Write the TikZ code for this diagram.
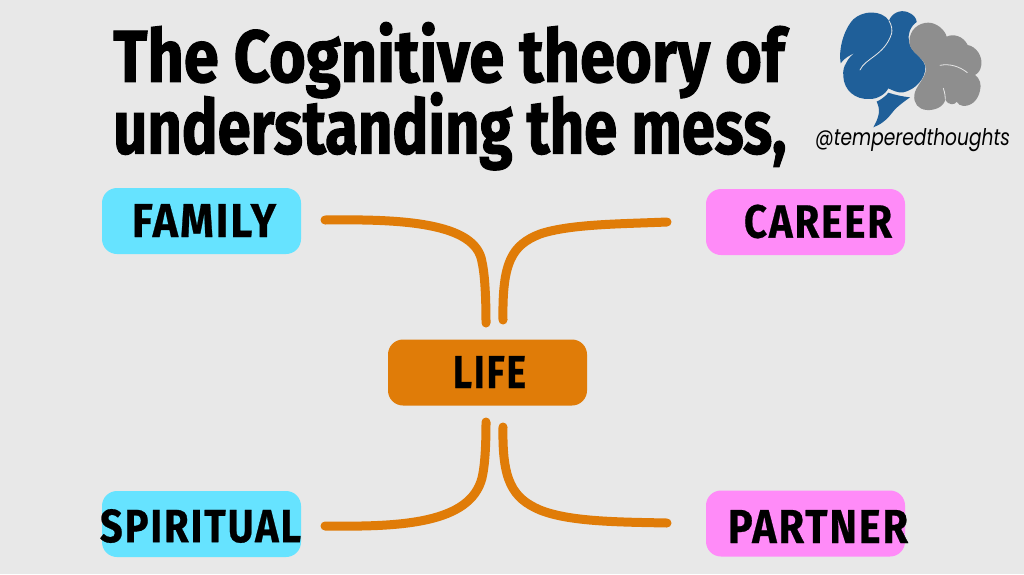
\documentclass[tikz,border=0pt]{standalone}
\usepackage{graphicx}
\usepackage{fontspec}
\newfontfamily\titlef[FakeBold=1.6]{Fira Sans}
\newfontfamily\labelf[FakeBold=0.6,LetterSpace=5]{Fira Sans}
\newfontfamily\handlef{Poppins}
\definecolor{pagebg}{HTML}{E8E8E8}
\definecolor{lifeor}{HTML}{E07C08}
\definecolor{cyanbox}{HTML}{66E3FF}
\definecolor{pinkbox}{HTML}{FF8BF8}
\definecolor{logoblue}{HTML}{1F5F99}
\definecolor{logogrey}{HTML}{8E8E8E}
\newcommand{\fit}[3]{\resizebox{#1pt}{#2pt}{#3}}
\tikzset{
  box/.style={rounded corners=15pt,minimum width=199pt,minimum height=66pt,inner sep=0pt,draw=none},
  lab/.style={inner sep=0pt,text=black,font=\labelf\bfseries},
  ttl/.style={inner sep=0pt,anchor=north west,text=black,font=\titlef\bfseries},
  conn/.style={draw=lifeor,line width=9pt,line cap=round,line join=round},
  seam/.style={draw=pagebg,line width=0.8pt,line cap=round},
}
\begin{document}
\begin{tikzpicture}[x=1pt,y=-1pt]
\useasboundingbox (0,0) rectangle (1024,574);
\fill[pagebg] (0,0) rectangle (1024,574);
% title
\node[ttl] (t1) at (113,22) {\resizebox*{671pt}{76pt}{The Cognitive theory of}};
\node[ttl] (t2) at (113,92) {\resizebox*{673pt}{78pt}{understanding the mess,}};
% boxes
\node[box,fill=cyanbox] (family) at (201.5,221) {};
\node[box,fill=pinkbox] (career) at (805.5,222) {};
\node[box,fill=lifeor] (life) at (487.5,372.5) {};
\node[box,fill=cyanbox] (spiritual) at (201.5,524) {};
\node[box,fill=pinkbox] (partner) at (805.5,523.5) {};
% labels
\node[lab] (familyT) at (204,220.5) {\fit{144}{33}{FAMILY}};
\node[lab] (careerT) at (818,221.5) {\fit{148}{33}{CAREER}};
\node[lab] (lifeT) at (489.5,372) {\fit{73}{32}{LIFE}};
\node[lab] (spiritualT) at (200.5,526) {\fit{201}{33}{SPIRITUAL}};
\node[lab] (partnerT) at (818,526.5) {\fit{180}{33}{PARTNER}};
% connector ends
\coordinate (fa) at (325,220);
\coordinate (fb) at (486,323);
\coordinate (ca) at (667,222);
\coordinate (cb) at (503,320);
\coordinate (sa) at (325,526);
\coordinate (sb) at (486,422);
\coordinate (pa) at (667,523);
\coordinate (pb) at (503,427);
\draw[conn] (fa) .. controls (400,219) and (476,222) .. (482,262) .. controls (485,275) and (486,300) .. (fb);
\draw[conn] (ca) .. controls (620,224) and (570,224) .. (540,234) .. controls (512,245) and (502,262) .. (cb);
\draw[conn] (sa) .. controls (400,527) and (470,524) .. (482,478) .. controls (485,465) and (486,445) .. (sb);
\draw[conn] (pa) .. controls (620,522) and (570,522) .. (540,510) .. controls (512,498) and (502,480) .. (pb);
% logo
\begin{scope}[shift={(820,0)},x=0.3333pt,y=-0.3333pt]
\fill[logoblue] (62,190) .. controls (55,150) and (70,90) .. (100,58) .. controls (130,30) and (185,30) .. (207,62)
  .. controls (215,40) and (240,28) .. (262,36) .. controls (280,42) and (290,55) .. (290,66)
  .. controls (270,80) and (262,105) .. (267,125) .. controls (272,160) and (310,170) .. (316,200)
  .. controls (318,235) and (285,270) .. (250,277) .. controls (235,280) and (215,270) .. (205,265)
  .. controls (195,285) and (170,297) .. (150,297) .. controls (105,300) and (72,270) .. (70,230)
  .. controls (68,210) and (72,200) .. (78,190) .. controls (85,175) and (95,165) .. (106,158)
  .. controls (90,165) and (72,175) .. (62,190) -- cycle;
\fill[logoblue] (170,305) .. controls (190,295) and (200,285) .. (205,278) .. controls (225,285) and (250,290) .. (270,292) .. controls (245,310) and (225,325) .. (215,340) .. controls (200,360) and (180,375) .. (160,382) .. controls (178,350) and (182,330) .. (170,305) -- cycle;
\fill[logogrey] (268,125) .. controls (268,90) and (295,68) .. (325,68) .. controls (350,68) and (375,90) .. (380,110)
  .. controls (400,100) and (430,108) .. (443,135) .. controls (470,140) and (488,170) .. (484,195)
  .. controls (482,210) and (475,220) .. (465,225) .. controls (480,235) and (485,255) .. (480,272)
  .. controls (475,295) and (460,318) .. (430,318) .. controls (420,318) and (415,312) .. (410,305)
  .. controls (405,315) and (385,318) .. (376,298) .. controls (372,320) and (345,332) .. (320,330)
  .. controls (295,328) and (280,310) .. (283,285) .. controls (285,260) and (318,235) .. (318,205)
  .. controls (315,170) and (268,160) .. (268,125) -- cycle;
\draw[seam] (120,210) .. controls (135,175) and (195,165) .. (215,100);
\draw[seam] (207,62) .. controls (215,75) and (217,90) .. (215,100);
\draw[seam] (360,196) .. controls (390,190) and (420,200) .. (442,218);
\draw[seam] (370,265) .. controls (375,280) and (376,290) .. (376,298);
\end{scope}
\node[inner sep=0pt,text=black] (handle) at (912.5,140.5) {\fit{195}{17}{\handlef\itshape @temperedthoughts}};
\end{tikzpicture}
\end{document}
